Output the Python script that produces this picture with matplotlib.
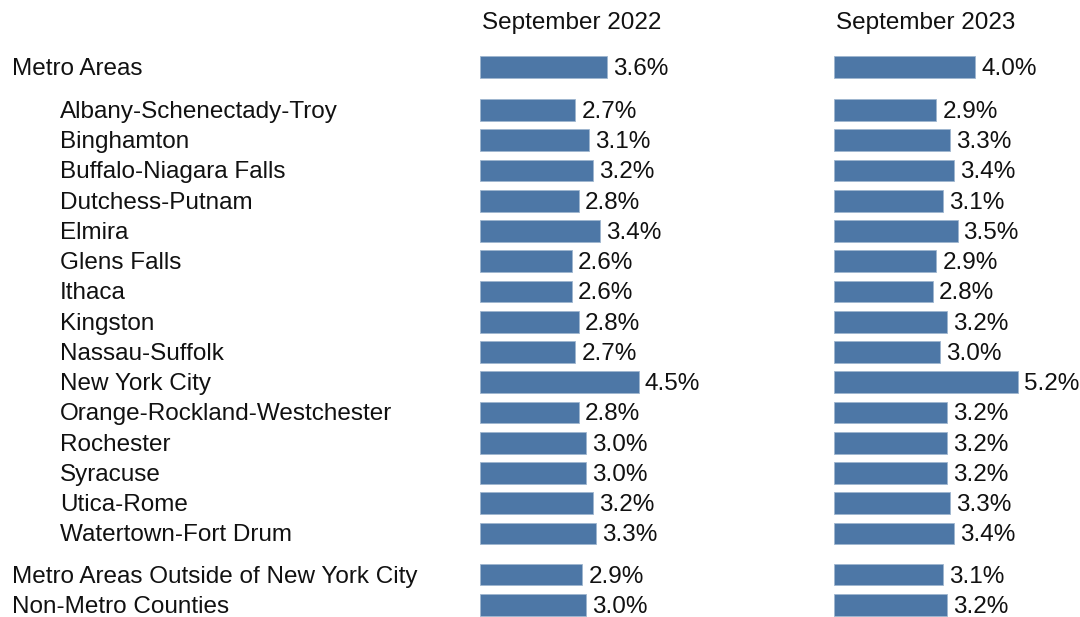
import numpy as np
import matplotlib
matplotlib.use("Agg")
import matplotlib.pyplot as plt

plt.rcParams['font.family'] = ['Liberation Sans', 'DejaVu Sans']

areas = ["Metro Areas",
         "Albany-Schenectady-Troy", "Binghamton", "Buffalo-Niagara Falls",
         "Dutchess-Putnam", "Elmira", "Glens Falls", "Ithaca", "Kingston",
         "Nassau-Suffolk", "New York City", "Orange-Rockland-Westchester",
         "Rochester", "Syracuse", "Utica-Rome", "Watertown-Fort Drum",
         "Metro Areas Outside of New York City", "Non-Metro Counties"]
indented = [False] + [True] * 15 + [False, False]
sep_2022 = [3.6, 2.7, 3.1, 3.2, 2.8, 3.4, 2.6, 2.6, 2.8, 2.7, 4.5, 2.8, 3.0, 3.0, 3.2, 3.3, 2.9, 3.0]
sep_2023 = [4.0, 2.9, 3.3, 3.4, 3.1, 3.5, 2.9, 2.8, 3.2, 3.0, 5.2, 3.2, 3.2, 3.2, 3.3, 3.4, 3.1, 3.2]
headers = ["September 2022", "September 2023"]

# row positions, with gaps after the first row and before the last two
rows = np.arange(len(areas), dtype=float)
rows[1:] += 0.42
rows[16:] += 0.36

bar_color = "#4d77a6"
text_color = "#111111"
fs = 17.5

fig = plt.figure(figsize=(10.8, 6.17), dpi=100)
W, H = 1080, 617
row_px = 30.25
ytop, ybot = -67 / row_px, (H - 67) / row_px
dy = 2 / row_px  # nudge text down a touch

# labels axis over full figure
lab = fig.add_axes([0, 0, 1, 1])
lab.set_xlim(0, W)
lab.set_ylim(ybot, ytop)
lab.axis("off")
for name, y, ind in zip(areas, rows, indented):
    lab.text(60 if ind else 12, y + dy, name, fontsize=fs, va="center", ha="left", color=text_color)

px_per_pct = 35.3
for left, values, head in zip([480, 834], [sep_2022, sep_2023], headers):
    width = 240
    ax = fig.add_axes([left / W, 0, width / W, 1])
    ax.set_xlim(0, width / px_per_pct)
    ax.set_ylim(ybot, ytop)
    ax.axis("off")
    ax.barh(rows, values, height=0.72, color=bar_color, edgecolor="#9fb6cf", linewidth=0.6)
    for y, v in zip(rows, values):
        ax.text(v + 0.17, y + dy, f"{v:.1f}%", fontsize=fs, va="center", ha="left", color=text_color)
    ax.text(0.05, ytop + 23 / row_px, head, fontsize=fs, va="center", ha="left", color=text_color)

fig.savefig("out.png", dpi=100)
